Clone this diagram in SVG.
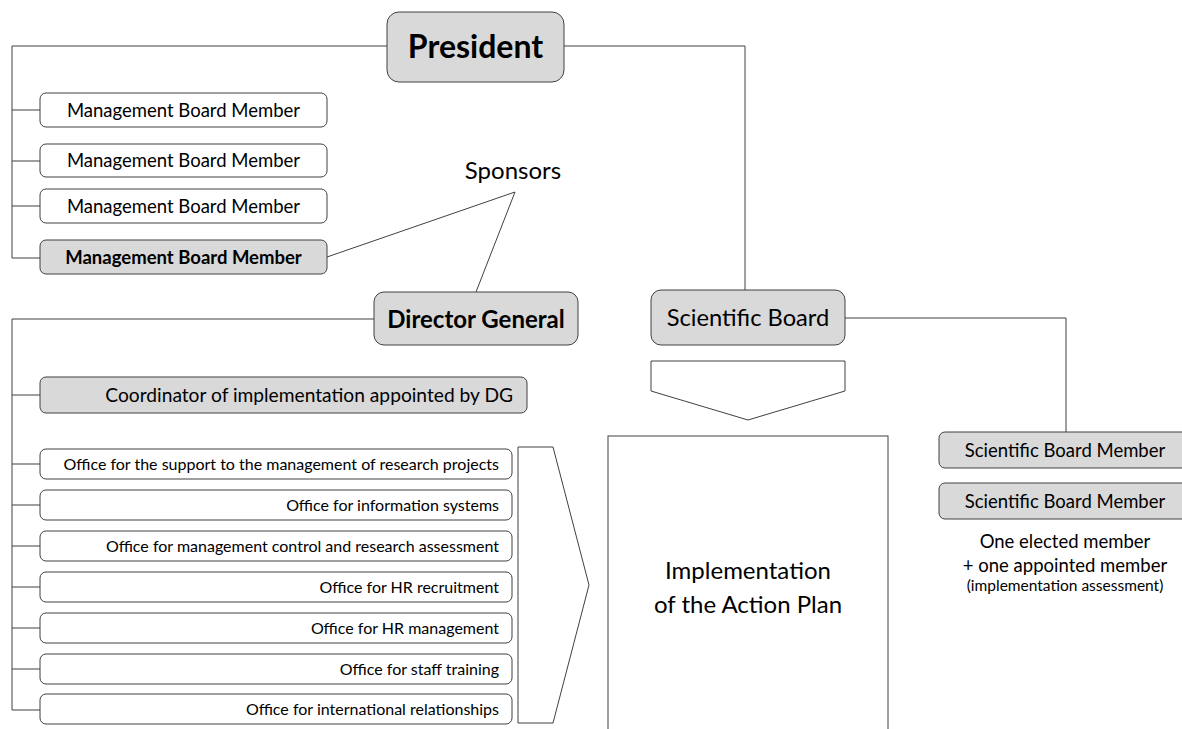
<svg xmlns="http://www.w3.org/2000/svg" width="1182" height="729" viewBox="0 0 1182 729">
<style>
text{font-family:Lato,"Open Sans","Liberation Sans",sans-serif;fill:#000}
.box{fill:#fff;stroke:#404040;stroke-width:1}
.gbox{fill:#d9d9d9;stroke:#404040;stroke-width:1}
.ln{fill:none;stroke:#404040;stroke-width:1}
.mbm{font-size:18.5px;text-anchor:middle}
.off{font-size:16px;text-anchor:end}
.c{text-anchor:middle}
</style>
<rect width="1182" height="729" fill="#fff"/>
<g id="connectors">
<polyline class="ln" points="387,46 12,46 12,258 40,258"/>
<line class="ln" x1="12" y1="110" x2="40" y2="110"/>
<line class="ln" x1="12" y1="161" x2="40" y2="161"/>
<line class="ln" x1="12" y1="206" x2="40" y2="206"/>
<polyline class="ln" points="564,46 745,46 745,290"/>
<polyline class="ln" points="327,257 515,192 476,292"/>
<polyline class="ln" points="374,319 12,319 12,710 40,710"/>
<line class="ln" x1="12" y1="395" x2="40" y2="395"/>
<line class="ln" x1="12" y1="464" x2="40" y2="464"/>
<line class="ln" x1="12" y1="505" x2="40" y2="505"/>
<line class="ln" x1="12" y1="546" x2="40" y2="546"/>
<line class="ln" x1="12" y1="587" x2="40" y2="587"/>
<line class="ln" x1="12" y1="628" x2="40" y2="628"/>
<line class="ln" x1="12" y1="669" x2="40" y2="669"/>
<polyline class="ln" points="845,318 1066,318 1066,432"/>
</g>
<g id="president">
<rect class="gbox" x="387" y="12" width="177" height="70" rx="12"/>
<text x="475.5" y="58" class="c" font-size="32" font-weight="bold">President</text>
</g>
<g id="mbm1"><rect class="box" x="40" y="93" width="287" height="34" rx="6"/><text class="mbm" x="183.5" y="116.5">Management Board Member</text></g>
<g id="mbm2"><rect class="box" x="40" y="144" width="287" height="33" rx="6"/><text class="mbm" x="183.5" y="167">Management Board Member</text></g>
<g id="mbm3"><rect class="box" x="40" y="189" width="287" height="34" rx="6"/><text class="mbm" x="183.5" y="212.5">Management Board Member</text></g>
<g id="mbm4"><rect class="gbox" x="40" y="240" width="287" height="34" rx="6"/><text class="mbm" x="183.5" y="263.5" font-weight="bold">Management Board Member</text></g>
<g id="sponsors"><text x="513" y="179" class="c" font-size="24">Sponsors</text></g>
<g id="director-general">
<rect class="gbox" x="374" y="292" width="204" height="53" rx="10"/>
<text x="476" y="328" class="c" font-size="24" font-weight="bold">Director General</text>
</g>
<g id="coordinator"><rect class="gbox" x="40" y="377" width="487" height="36" rx="6"/><text x="513" y="401.5" font-size="19.2" text-anchor="end">Coordinator of implementation appointed by DG</text></g>
<g id="office1"><rect class="box" x="40" y="449" width="472" height="30" rx="6"/><text class="off" x="499" y="469.5">Office for the support to the management of research projects</text></g>
<g id="office2"><rect class="box" x="40" y="490" width="472" height="30" rx="6"/><text class="off" x="499" y="510.5">Office for information systems</text></g>
<g id="office3"><rect class="box" x="40" y="531" width="472" height="30" rx="6"/><text class="off" x="499" y="551.5">Office for management control and research assessment</text></g>
<g id="office4"><rect class="box" x="40" y="572" width="472" height="30" rx="6"/><text class="off" x="499" y="592.5">Office for HR recruitment</text></g>
<g id="office5"><rect class="box" x="40" y="613" width="472" height="30" rx="6"/><text class="off" x="499" y="633.5">Office for HR management</text></g>
<g id="office6"><rect class="box" x="40" y="654" width="472" height="30" rx="6"/><text class="off" x="499" y="674.5">Office for staff training</text></g>
<g id="office7"><rect class="box" x="40" y="694" width="472" height="30" rx="6"/><text class="off" x="499" y="714.5">Office for international relationships</text></g>
<g id="offices-chevron"><polygon class="ln" points="518,447 553,447 589,585 553,723 518,723"/></g>
<g id="scientific-board">
<rect class="gbox" x="651" y="290" width="194" height="55" rx="10"/>
<text x="748" y="326" class="c" font-size="23.7">Scientific Board</text>
</g>
<g id="board-chevron"><polygon class="ln" points="651,361 845,361 845,391 748,420 651,391"/></g>
<g id="implementation">
<rect class="box" x="608" y="436" width="280" height="300"/>
<text x="748" y="579" class="c" font-size="24">Implementation</text>
<text x="748" y="613" class="c" font-size="24">of the Action Plan</text>
</g>
<g id="sbm1"><rect class="gbox" x="939" y="432" width="260" height="36" rx="6"/><text x="1065" y="456.5" class="c" font-size="18.5">Scientific Board Member</text></g>
<g id="sbm2"><rect class="gbox" x="939" y="483" width="260" height="36" rx="6"/><text x="1065" y="507.5" class="c" font-size="18.5">Scientific Board Member</text></g>
<g id="sbm-note">
<text x="1065" y="548" class="c" font-size="18.5">One elected member</text>
<text x="1065" y="572" class="c" font-size="18.5">+ one appointed member</text>
<text x="1065" y="591" class="c" font-size="15.5">(implementation assessment)</text>
</g>
</svg>
